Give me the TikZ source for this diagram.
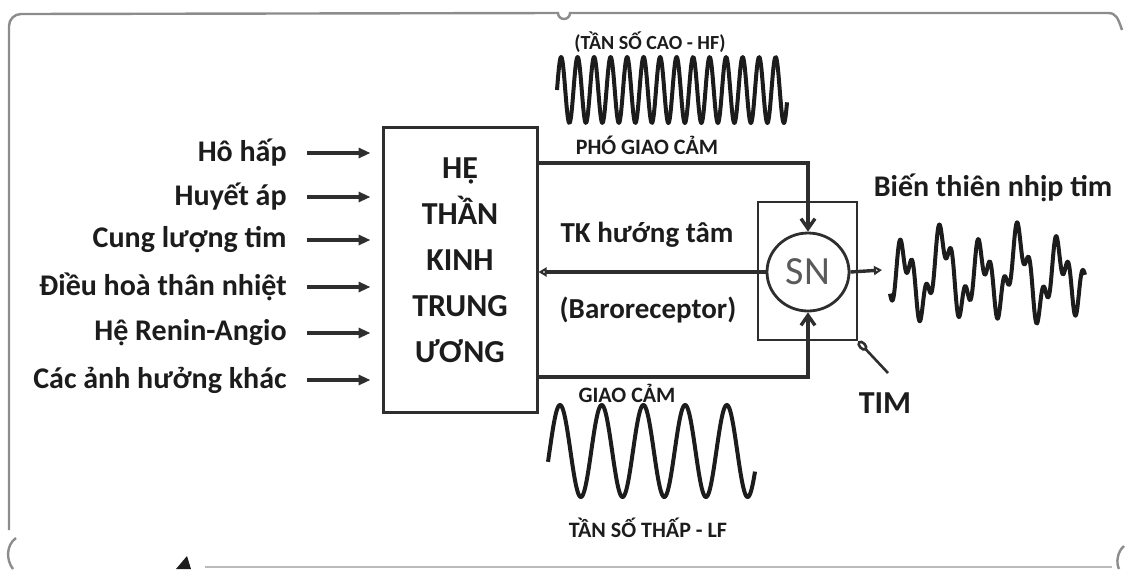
\documentclass[tikz,border=0pt]{standalone}
\usepackage{fontspec}
\setmainfont{Carlito}
\usepackage{tikz}
\usetikzlibrary{arrows.meta, calc, positioning, shapes.geometric}
\usepackage{xcolor}
\definecolor{mInk}{HTML}{1C1C1C}
\definecolor{mLine}{HTML}{2E2E2E}
\definecolor{mFrame}{HTML}{8C8C8C}
\definecolor{mSoft}{HTML}{5A5A5A}

\begin{document}
\begin{tikzpicture}[x=0.5pt, y=-0.5pt,
    inlbl/.style={font=\fontsize{15}{17}\selectfont\bfseries, text=mInk, inner sep=0pt},
    lbl/.style={font=\fontsize{14.5}{16}\selectfont\bfseries, text=mInk, inner sep=0pt},
    smalllbl/.style={font=\fontsize{11}{13}\selectfont\bfseries, text=mInk, inner sep=0pt},
    inarrow/.style={-{Triangle[length=6pt,width=5pt]}, line width=1.6pt, mLine},
    nerve/.style={line width=1.7pt, mLine},
    wave/.style={line width=2pt, mInk, line join=round},
    frameline/.style={mFrame, line width=1.2pt}]
  \useasboundingbox (0,0) rectangle (1125,569);
  % screenshot frame
  \draw[frameline] (9,530) -- (9,26) arc[start angle=180, end angle=90, radius=6pt] -- (558,13)
    arc[start angle=180, end angle=360, radius=3pt] -- (1108,13) .. controls (1116,13) and (1118,18) .. (1122,30);
  \draw[frameline] (16,538) .. controls (6,545) and (6,560) .. (13,569);
  \draw[frameline] (1124,546) .. controls (1117,552) and (1116,563) .. (1119,569);
  \draw[mFrame!60, line width=1pt] (205,567) -- (1112,567);
  \fill[mInk] (176,569) -- (187,556) -- (191,569) -- cycle;
  % central nervous system
  \node[draw=mLine, line width=1.5pt, minimum width=77pt, minimum height=142.5pt, inner sep=0pt] (cns) at (460,269.5) {};
  \node[font=\fontsize{16}{23}\selectfont\bfseries, text=mInk, align=center] (cnslbl) at (460,260)
    {HỆ\\THẦN\\KINH\\TRUNG\\ƯƠNG};
  % inputs
  \foreach \y/\t [count=\i] in {153/Hô hấp, 197/Huyết áp, 240/Cung lượng tim,
                                 287/Điều hoà thân nhiệt, 333/Hệ Renin-Angio, 380/Các ảnh hưởng khác} {
    \node[inlbl, anchor=east] (in\i) at (287,\y) {\t};
    \draw[inarrow, shorten <=10pt, shorten >=5.5pt] (in\i.east) -- (cns.west |- in\i.east);
  }
  % sinus node
  \node[draw=mLine, line width=1.3pt, minimum width=49.5pt, minimum height=69pt, inner sep=0pt] (snbox) at (807.5,271) {};
  \node[ellipse, draw=mLine, line width=1.4pt, minimum width=41pt, minimum height=39pt, inner sep=0pt,
        font=\fontsize{20}{22}\selectfont, text=mSoft] (sn) at (808,272) {SN};
  % efferent and afferent paths
  \coordinate (pgc) at (810,163);
  \coordinate (gc) at (810,377);
  \draw[nerve, -{Straight Barb[length=5pt,width=7pt]}] (cns.east |- pgc) -| (sn.north);
  \draw[nerve, -{Straight Barb[length=5pt,width=7pt]}] (cns.east |- gc) -| (sn.south);
  \draw[nerve, -{Triangle[open,length=4pt,width=4.5pt]}] (sn.west) -- (cns.east |- sn.west);
  \node[smalllbl] (pgclbl) at (647,145) {PHÓ GIAO CẢM};
  \node[smalllbl] (gclbl) at (627,393) {GIAO CẢM};
  \node[lbl] (tklbl) at (647,235) {TK hướng tâm};
  \node[lbl] (barolbl) at (648,310) {(Baroreceptor)};
  % output and heart
  \coordinate (hrv) at (882,270);
  \draw[nerve, -{Triangle[open,length=4pt,width=4.5pt]}] (sn.east) -- (hrv);
  \node[font=\fontsize{16}{18}\selectfont\bfseries, text=mInk, inner sep=0pt] (tim) at (885,403) {TIM};
  \coordinate (timpin) at (888,373);
  \draw[line width=1.3pt, mLine, -{Ellipse[open,length=6pt,width=4pt]}] (timpin) -- (snbox.south east);
  \node[lbl, font=\fontsize{15}{17}\selectfont\bfseries] (hrvlbl) at (993,188) {Biến thiên nhịp tim};
  % waves (phase factors precomputed: 360/16.5, 360/41.7, 360/38.5, 360/13, 360/71)
  \draw[wave] plot[domain=557:787, samples=460] (\x, {90 - 33*sin((\x-557)*21.818)});
  \node[font=\fontsize{10}{12}\selectfont\bfseries, text=mInk, inner sep=0pt] (hflbl) at (650,42) {(TẦN SỐ CAO - HF)};
  \draw[wave] plot[domain=548:755, samples=300] (\x, {451 - 46*sin((\x-560)*8.633 + 90)});
  \node[smalllbl] (lflbl) at (648,528) {TẦN SỐ THẤP - LF};
  \draw[wave] plot[domain=890:1085, samples=400]
    (\x, {275 + 30*cos((\x-923)*9.351) + 17*sin((\x-890)*27.692) + 8*sin((\x-890)*5.070)});
\end{tikzpicture}
\end{document}
